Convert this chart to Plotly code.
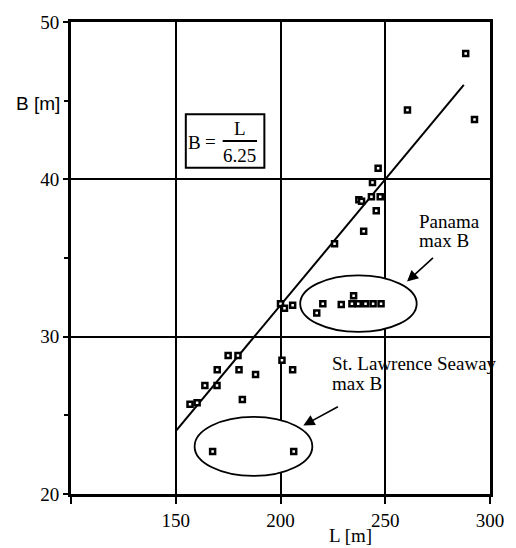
import numpy as np
import plotly.graph_objects as go

# Ship length L [m] and beam B [m]
length_m = [288.4, 260.6, 292.6, 246.6, 243.9, 243.4, 247.6, 237.4, 238.7, 245.7, 239.7, 225.8,
            200.0, 201.9, 205.8, 217.3, 220.2, 229.0, 234.9, 234.1, 237.1, 240.6, 244.2, 248.0,
            175.0, 179.7, 169.8, 180.2, 188.1, 163.9, 169.7, 156.8, 160.2, 181.8, 200.7, 205.8,
            167.6, 206.3]
beam_m = [48.0, 44.4, 43.8, 40.7, 39.8, 38.9, 38.9, 38.7, 38.6, 38.0, 36.7, 35.9,
          32.1, 31.8, 32.0, 31.5, 32.1, 32.05, 32.6, 32.1, 32.1, 32.1, 32.1, 32.1,
          28.8, 28.8, 27.9, 27.9, 27.6, 26.9, 26.9, 25.7, 25.8, 26.0, 28.5, 27.9,
          22.7, 22.7]

# Empirical relation B = L / 6.25
ratio = 6.25
fit_L = np.array([150.0, 287.5])
fit_B = fit_L / ratio

x_ticks = [100, 150, 200, 250, 300]
x_ticktext = ["", "150", "200", "250", "300"]
y_ticks = [20, 30, 40, 50]

serif = "Liberation Serif"
sans = "Liberation Sans"

fig = go.Figure()
fig.add_trace(go.Scatter(x=fit_L, y=fit_B, mode="lines",
                         line=dict(color="black", width=2), hoverinfo="skip"))
fig.add_trace(go.Scatter(x=length_m, y=beam_m, mode="markers",
                         marker=dict(symbol="square", size=5, color="white",
                                     line=dict(color="black", width=2.5))))

# Ellipses grouping the canal-limited ships
fig.add_shape(type="circle", xref="x", yref="y", x0=209.4, x1=265.0, y0=30.3, y1=33.9,
              line=dict(color="black", width=1.8), fillcolor="white", layer="between")
fig.add_shape(type="circle", xref="x", yref="y", x0=159.0, x1=215.2, y0=21.15, y1=24.9,
              line=dict(color="black", width=1.8), fillcolor="white", layer="between")

# Formula box
fig.add_shape(type="rect", xref="x", yref="y", x0=154.8, x1=192.3, y0=40.73, y1=44.13,
              line=dict(color="black", width=2), fillcolor="white", layer="above")
fig.add_shape(type="line", xref="x", yref="y", x0=172.4, x1=188.8, y0=42.43, y1=42.43,
              line=dict(color="black", width=2))

annots = [
    dict(text="B", x=158.9, y=42.35, xref="x", yref="y", font=dict(family=serif, size=19)),
    dict(text="=", x=166.6, y=42.4, xref="x", yref="y", font=dict(family=serif, size=19)),
    dict(text="L", x=180.5, y=43.2, xref="x", yref="y", font=dict(family=serif, size=19)),
    dict(text="6.25", x=180.6, y=41.5, xref="x", yref="y", font=dict(family=serif, size=19)),
    dict(text="Panama", x=265.2, y=37.33, xref="x", yref="y", xanchor="left",
         font=dict(family=serif, size=19)),
    dict(text="max B", x=265.2, y=36.13, xref="x", yref="y", xanchor="left",
         font=dict(family=serif, size=19)),
    dict(text="St. Lawrence Seaway", x=223.4, y=28.32, xref="x", yref="y", xanchor="left",
         font=dict(family=serif, size=19)),
    dict(text="max B", x=223.4, y=27.0, xref="x", yref="y", xanchor="left",
         font=dict(family=serif, size=19)),
    dict(text="B [m]", x=-0.079, y=44.83, xref="paper", yref="y", xanchor="center",
         font=dict(family=sans, size=19)),
    dict(text="L [m]", x=233.2, y=-0.088, xref="x", yref="paper", yanchor="middle",
         font=dict(family=serif, size=19)),
]
for a in annots:
    a.setdefault("xanchor", "center")
    a.setdefault("yanchor", "middle")
    a.update(showarrow=False, font=dict(color="black", **a["font"]))
    fig.add_annotation(**a)

# Arrows pointing at the ellipses
for tail, head in [((273.5, 35.1), (260.4, 33.5)), ((228.1, 25.6), (210.9, 24.35))]:
    fig.add_annotation(x=head[0], y=head[1], ax=tail[0], ay=tail[1],
                       xref="x", yref="y", axref="x", ayref="y", text="",
                       showarrow=True, arrowhead=2, arrowsize=1.4, arrowwidth=1.6,
                       arrowcolor="black")

fig.update_xaxes(range=[100, 300], tickvals=x_ticks, ticktext=x_ticktext,
                 showgrid=True, gridcolor="black", gridwidth=2, zeroline=False,
                 showline=True, linecolor="black", linewidth=3, mirror=True,
                 ticks="outside", ticklen=7, tickwidth=2, tickcolor="black",
                 tickfont=dict(family=serif, size=19, color="black"))
fig.update_yaxes(range=[20, 50], tickvals=y_ticks,
                 showgrid=True, gridcolor="black", gridwidth=2, zeroline=False,
                 showline=True, linecolor="black", linewidth=3, mirror=True,
                 ticks="outside", ticklen=5, tickwidth=2, tickcolor="black",
                 minor=dict(tickvals=[25, 35, 45], ticks="outside", ticklen=4,
                            tickwidth=1.5, tickcolor="black", showgrid=False),
                 tickfont=dict(family=serif, size=19, color="black"))

fig.update_layout(width=516, height=548, showlegend=False,
                  margin=dict(l=71, r=14, t=18, b=54),
                  plot_bgcolor="white", paper_bgcolor="white")

fig.write_html("out.html")
